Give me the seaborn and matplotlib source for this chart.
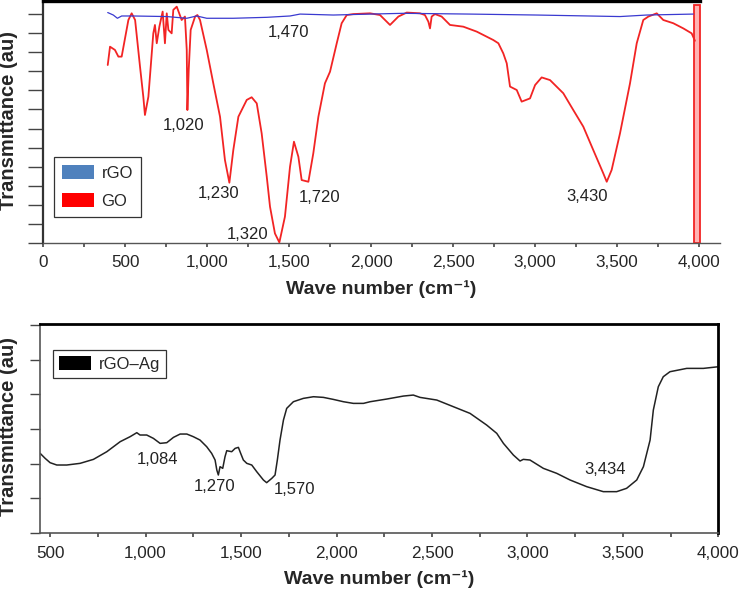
import matplotlib
matplotlib.use("Agg")
import matplotlib.pyplot as plt
import seaborn as sns
import numpy as np
import pandas as pd
from matplotlib.patches import Patch

sns.set_style("ticks")
plt.rcParams['font.family'] = ['Liberation Sans', 'DejaVu Sans']

# ---------------- data: top panel ----------------
go_wn = [393, 407, 437, 458, 478, 519, 539, 560, 590, 610, 620, 641, 671, 681, 692, 708, 728, 742, 753,
         763, 783, 793, 814, 844, 864, 875, 879, 887, 899, 926, 940, 956, 997, 1037, 1078, 1108, 1135,
         1159, 1190, 1241, 1271, 1302, 1332, 1363, 1383, 1413, 1440, 1474, 1505, 1529, 1556, 1576, 1617,
         1647, 1678, 1718, 1749, 1790, 1820, 1851, 1891, 1993, 2054, 2115, 2166, 2217, 2298, 2328, 2349,
         2359, 2369, 2389, 2430, 2481, 2562, 2644, 2745, 2776, 2806, 2827, 2847, 2888, 2918, 2969, 3000,
         3040, 3091, 3172, 3233, 3294, 3355, 3416, 3437, 3467, 3518, 3579, 3620, 3660, 3691, 3742, 3782,
         3843, 3904, 3955, 3975]
go_t = [93.3, 102.9, 101.2, 97.7, 97.7, 116.9, 120.4, 116.9, 92.4, 76.7, 67.1, 76.7, 109.9, 114.3, 104.7,
        113.4, 121.3, 104.7, 120.4, 111.7, 109.9, 122.2, 123.9, 116.9, 118.7, 101.2, 69.7, 90.7, 111.7,
        118.7, 119.5, 116.9, 101.2, 83.7, 66.2, 43.5, 31.6, 48.7, 66.2, 75.0, 76.4, 73.2, 57.5, 34.8, 19.0,
        5.0, 0.3, 13.8, 40.0, 53.1, 45.2, 33.0, 32.1, 47.0, 66.2, 83.7, 89.8, 104.7, 115.2, 119.5, 120.0,
        120.4, 119.5, 114.3, 118.7, 120.8, 120.4, 119.5, 116.0, 112.5, 118.7, 120.0, 118.7, 114.3, 113.4,
        110.8, 106.4, 104.7, 99.4, 94.2, 82.0, 80.2, 74.1, 75.8, 82.8, 86.8, 85.4, 78.5, 69.7, 61.0, 48.7,
        36.5, 32.1, 38.3, 57.5, 83.7, 104.7, 116.9, 118.7, 120.4, 116.9, 115.2, 112.5, 109.9, 106.0]
rgo_wn = [393, 427, 452, 478, 549, 753, 875, 936, 997, 1159, 1363, 1505, 1566, 1769, 1993, 2196, 2603,
          3010, 3518, 3681, 3965]
rgo_t = [120.8, 119.5, 117.8, 119.0, 119.0, 118.7, 117.8, 119.0, 117.8, 117.8, 118.3, 119.0, 120.0, 119.5,
         120.0, 120.4, 120.0, 119.5, 118.7, 119.5, 120.0]
go_band = [3970, 4005]

top_labels = ["1,470", "1,020", "1,230", "1,720", "1,320", "3,430"]
top_label_wn = [1493, 858, 1072, 1688, 1249, 3318]
top_label_t = [110.6, 61.4, 26.2, 24.1, 4.2, 24.6]

# ---------------- data: bottom panel ----------------
ag_wn = [448, 474, 500, 535, 587, 657, 727, 797, 867, 919, 954, 971, 1006, 1041, 1076, 1111, 1146, 1181,
         1216, 1250, 1285, 1320, 1346, 1364, 1373, 1381, 1390, 1404, 1416, 1425, 1451, 1469, 1486, 1498,
         1512, 1530, 1556, 1582, 1617, 1634, 1661, 1678, 1690, 1704, 1722, 1739, 1774, 1826, 1879, 1931,
         1983, 2036, 2088, 2141, 2176, 2263, 2350, 2402, 2437, 2525, 2612, 2699, 2786, 2839, 2874, 2926,
         2961, 2978, 3013, 3083, 3153, 3223, 3310, 3397, 3467, 3519, 3572, 3607, 3642, 3659, 3685, 3711,
         3746, 3834, 3921, 4000]
ag_t = [22.96, 21.52, 20.27, 19.60, 19.60, 20.08, 21.23, 23.44, 26.33, 27.77, 28.92, 28.25, 28.25, 27.28,
        25.84, 26.04, 27.57, 28.53, 28.53, 27.77, 26.80, 24.88, 22.96, 21.04, 18.16, 16.72, 19.12, 18.64,
        22.00, 23.73, 23.44, 24.40, 24.69, 22.96, 21.04, 20.08, 19.60, 17.68, 15.28, 14.51, 15.76, 16.72,
        21.04, 26.80, 32.57, 35.93, 37.85, 38.81, 39.29, 39.10, 38.52, 37.85, 37.37, 37.37, 37.85, 38.62,
        39.48, 39.77, 39.10, 38.33, 36.41, 34.49, 31.13, 28.73, 25.84, 22.48, 20.75, 21.23, 21.04, 18.64,
        17.20, 15.28, 13.36, 11.92, 11.92, 12.88, 15.28, 19.12, 26.80, 35.45, 42.17, 45.06, 46.50, 47.46,
        47.46, 47.94]

bot_labels = ["1,084", "1,270", "1,570", "3,434"]
bot_label_wn = [1065, 1359, 1778, 3406]
bot_label_t = [21.3, 13.3, 12.4, 18.4]

xticks_top = [0, 500, 1000, 1500, 2000, 2500, 3000, 3500, 4000]
xticks_bot = [500, 1000, 1500, 2000, 2500, 3000, 3500, 4000]

W, H = 739, 595

# ---------------- figure ----------------
fig = plt.figure(figsize=(7.39, 5.95), dpi=100)
ax1 = fig.add_axes([0.0586, 0.5916, 0.9157, 0.4059])
ax2 = fig.add_axes([0.0541, 0.1042, 0.9181, 0.3521])

red = "#f22424"
blue = "#3a3ad0"

df_go = pd.DataFrame({"wn": go_wn, "t": go_t})
df_rgo = pd.DataFrame({"wn": rgo_wn, "t": rgo_t})
df_ag = pd.DataFrame({"wn": ag_wn, "t": ag_t})

ax1.axvspan(go_band[0], go_band[1], ymin=0, ymax=0.985, facecolor="#ffb3b3", edgecolor=red, lw=1.3, zorder=1)
sns.lineplot(data=df_go, x="wn", y="t", ax=ax1, color=red, lw=1.3, estimator=None, sort=False, zorder=3)
sns.lineplot(data=df_rgo, x="wn", y="t", ax=ax1, color=blue, lw=0.9, estimator=None, sort=False, zorder=4)

ax1.set_xlim(0, 4128)
ax1.set_ylim(0, 126.6)
ax1.set_xticks(xticks_top)
ax1.set_xticklabels([f"{v:,}" for v in xticks_top])
ax1.set_xticks(np.arange(250, 4000, 500), minor=True)
ax1.set_yticks(np.arange(0, 121, 10))

for s, v, t in zip(top_labels, top_label_wn, top_label_t):
    ax1.text(v, t, s, ha="center", va="center", fontsize=12, color="#222222")

ax1.spines["right"].set_visible(False)
ax1.spines["top"].set_linewidth(2.4)
ax1.spines["top"].set_color("black")
ax1.spines["top"].set_bounds(0, 4006)
ax1.spines["left"].set_linewidth(1.6)
ax1.spines["left"].set_color("#333333")
ax1.spines["bottom"].set_linewidth(1.0)
ax1.spines["bottom"].set_color("#555555")
ax1.tick_params(axis="y", which="major", length=11, width=1.0, color="#444444", direction="out",
                labelleft=False)
ax1.tick_params(axis="x", which="both", length=3, width=1.2, color="#444444", direction="out",
                labelsize=12.3, pad=6)

leg1 = ax1.legend(handles=[Patch(facecolor="#4f81bd", edgecolor="none", label="rGO"),
                           Patch(facecolor="#ff0000", edgecolor="none", label="GO")],
                  loc="upper left", bbox_to_anchor=(0.0158, 0.356), borderaxespad=0,
                  fontsize=12, frameon=True, fancybox=False, edgecolor="black",
                  handlelength=1.9, handleheight=0.85, borderpad=0.5, labelspacing=0.75,
                  handletextpad=0.45)
leg1.get_frame().set_linewidth(0.9)

ax1.set_xlabel("Wave number (cm⁻¹)", fontsize=14, fontweight="bold", labelpad=7)
ax1.set_ylabel("")
fig.text(9 / W, 1 - 121 / H, "Transmittance (au)", rotation=90, ha="center", va="center",
         fontsize=14.5, fontweight="bold")

# bottom panel
sns.lineplot(data=df_ag, x="wn", y="t", ax=ax2, color="#222222", lw=1.1, estimator=None, sort=False)
ax2.set_xlim(447, 4000)
ax2.set_ylim(0, 60.4)
ax2.set_xticks(xticks_bot)
ax2.set_xticklabels([f"{v:,}" for v in xticks_bot])
ax2.set_xticks(np.arange(750, 4000, 500), minor=True)
ax2.set_yticks(np.arange(0, 61, 10))

for s, v, t in zip(bot_labels, bot_label_wn, bot_label_t):
    ax2.text(v, t, s, ha="center", va="center", fontsize=12, color="#222222")

for sp in ["top", "right"]:
    ax2.spines[sp].set_linewidth(2.0)
    ax2.spines[sp].set_color("black")
for sp in ["left", "bottom"]:
    ax2.spines[sp].set_linewidth(1.2)
    ax2.spines[sp].set_color("#555555")
ax2.tick_params(axis="y", which="major", length=7, width=1.0, color="#444444", direction="out",
                labelleft=False)
ax2.tick_params(axis="x", which="both", length=3, width=1.2, color="#444444", direction="out",
                labelsize=12.3, pad=6)

leg2 = ax2.legend(handles=[Patch(facecolor="black", edgecolor="none", label="rGO–Ag")],
                  loc="upper left", bbox_to_anchor=(0.0192, 0.873), borderaxespad=0,
                  fontsize=12, frameon=True, fancybox=False, edgecolor="black",
                  handlelength=1.9, handleheight=0.95, borderpad=0.35, handletextpad=0.5)
leg2.get_frame().set_linewidth(0.9)

ax2.set_xlabel("Wave number (cm⁻¹)", fontsize=14, fontweight="bold", labelpad=7)
ax2.set_ylabel("")
fig.text(9 / W, 1 - 426 / H, "Transmittance (au)", rotation=90, ha="center", va="center",
         fontsize=14.5, fontweight="bold")

fig.savefig("out.png", dpi=100)
